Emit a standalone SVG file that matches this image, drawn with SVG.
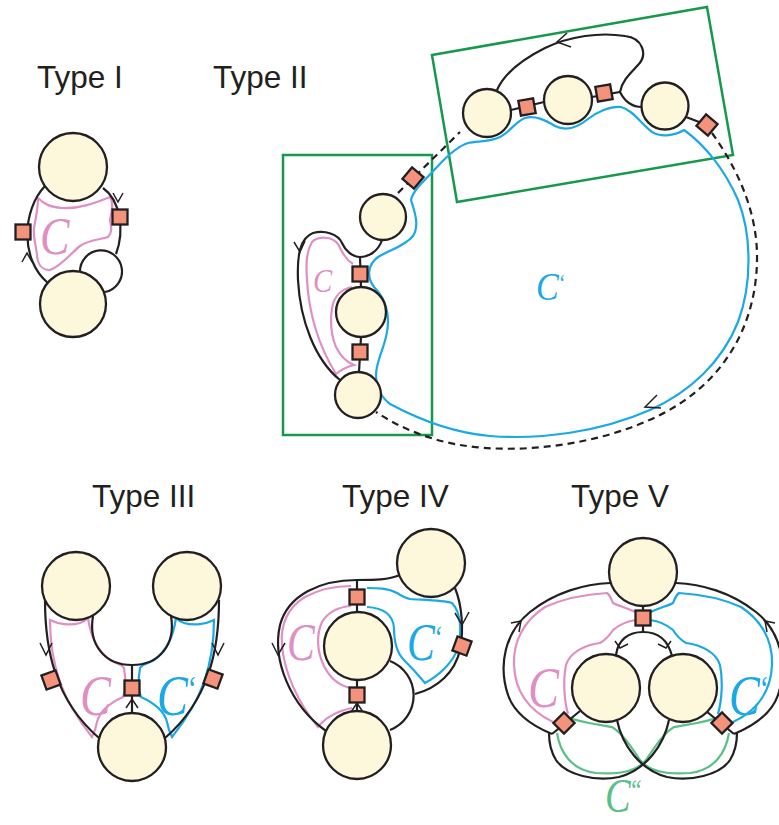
<svg xmlns="http://www.w3.org/2000/svg" width="779" height="825" viewBox="0 0 779 825">
<style>
.n{fill:#fdf7dc;stroke:#231f20;stroke-width:2.3}
.sq{fill:#f4937c;stroke:#231f20;stroke-width:2.3}
.ln{fill:none;stroke:#231f20;stroke-width:2.2}
.ar{fill:none;stroke:#231f20;stroke-width:1.5}
.da{fill:none;stroke:#231f20;stroke-width:2.2;stroke-dasharray:7 5}
.pk{fill:none;stroke:#e08fc4;stroke-width:2.2}
.bl{fill:none;stroke:#1ba9e6;stroke-width:2.2}
.gr{fill:none;stroke:#5bbf88;stroke-width:2.2}
.box{fill:none;stroke:#16994a;stroke-width:2.5}
.t{font-family:"Liberation Sans",Arial,sans-serif;font-size:31.5px;fill:#231f20}
.lab{font-family:"Liberation Serif","Times New Roman",serif;font-style:italic}
.tk{font-size:60%}
</style>
<defs>
<rect id="sqr" x="-7.5" y="-7.5" width="15" height="15" class="sq"/>
</defs>

<!-- Titles -->
<g id="titles">
<text class="t" x="37" y="88">Type I</text>
<text class="t" x="213" y="88">Type II</text>
<text class="t" x="92" y="507">Type III</text>
<text class="t" x="342" y="507">Type IV</text>
<text class="t" x="571" y="507">Type V</text>
</g>

<!-- Green boxes -->
<g id="boxes">
<rect class="box" x="283" y="155" width="149" height="280"/>
<polygon class="box" points="432,55 707,7 733,155 457,202"/>
</g>

<!-- Cycle regions -->
<g id="regions">
<path class="pk" d="M38,198 C44,204 50,207 62,208 C80,209 95,203 110,197 C114,203 112,212 110,220 C111,226 113,232 108,237 C100,240 90,239 80,246 C72,252 63,265 50,270 C42,270 38,266 37,255 C36,245 33,238 34,228 C36,218 38,208 38,198 Z"/>
<path class="pk" d="M353,264 C346,260 342,252 338,244 C332,236 318,236 312,242 C306,252 306,265 307,280 C309,315 320,348 336,374 C342,369 350,366 354,365 C346,362 340,355 336,347 C331,335 330,322 332,308 C334,296 342,289 352,287"/>
<path class="bl" d="M390,404 C378,395 374,380 377,367 C380,352 388,340 388,322 C388,305 382,295 374,287 C367,278 367,265 378,257 C390,250 405,246 413,236 C420,225 414,210 411,200 C413,190 425,180 437,167 C448,155 458,146 468,143 C478,141 490,142 500,137 C510,132 515,122 525,118 C535,115 545,120 555,126 C565,131 577,128 588,119 C597,112 610,106 621,107 C633,110 642,125 652,132 C662,138 676,135 684,130 C705,145 725,170 738,200 C752,235 752,285 738,322 C722,362 690,392 650,410 C600,432 540,440 490,436 C455,433 420,420 390,404 Z"/>
<path class="pk" d="M50,620 C58,624 70,626 80,623 C84,622 86,620 88,618 C90,632 96,650 110,660 C116,664 122,664 124,668 C126,680 126,690 123,697 C112,702 100,710 97,722 C96,728 94,733 92,737 C80,722 68,705 60,682 C53,662 50,640 50,620 Z"/>
<path class="bl" transform="translate(264,0) scale(-1,1)" d="M50,620 C58,624 70,626 80,623 C84,622 86,620 88,618 C90,632 96,650 110,660 C116,664 122,664 124,668 C126,680 126,690 123,697 C112,702 100,710 97,722 C96,728 94,733 92,737 C80,722 68,705 60,682 C53,662 50,640 50,620 Z"/>
<path class="pk" d="M351,586 C335,586 318,590 305,597 C288,607 280,625 282,645 C284,672 298,703 318,727 C325,718 338,711 352,708 M351,688 C340,686 330,678 324,666 C317,652 316,635 322,622 C328,612 338,607 351,606"/>
<path class="bl" d="M367,588 C377,588 388,588 397,593 C402,596 405,598 410,599 C425,600 442,600 452,603 C461,612 462,632 458,648 C453,662 440,675 425,683 C420,677 412,668 404,660 C396,652 394,640 394,628 C393,615 385,608 367,607"/>
<path class="pk" d="M637,613 C628,608 618,606 613,603 C611,598 610,595 607,593 C590,594 565,598 545,607 C525,620 513,640 514,665 C515,690 528,710 553,722 M568,714 C564,700 563,680 566,665 C570,652 585,645 600,643 C605,640 610,635 613,630 C620,624 628,621 636,620"/>
<path class="bl" transform="translate(1286,0) scale(-1,1)" d="M637,613 C628,608 618,606 613,603 C611,598 610,595 607,593 C590,594 565,598 545,607 C525,620 513,640 514,665 C515,690 528,710 553,722 M568,714 C564,700 563,680 566,665 C570,652 585,645 600,643 C605,640 610,635 613,630 C620,624 628,621 636,620"/>
<path class="gr" d="M570,718 C580,722 600,725 612,727 C622,733 630,745 640,760 C648,770 665,775 690,773 C715,770 726,752 729,733"/>
<path class="gr" d="M716,718 C706,722 686,725 674,727 C664,733 656,745 646,760 C638,770 621,775 596,773 C571,770 560,752 557,733"/>
</g>

<!-- Connectors -->
<g id="connectors">
<!-- Type I -->
<path class="ln" d="M45,186 C22,210 20,260 48,283"/>
<path class="ln" d="M103,188 C120,200 125,230 116,254"/>
<path class="ln" d="M80,272 A21,21 0 1 1 105,292"/>
<path class="ar" d="M113,193 L118,202 L123,193"/>
<path class="ar" d="M22,262 L27,253 L32,262"/>
<!-- Type II -->
<path class="ln" d="M382,240 C378,252 368,257 360,257 C352,257 345,250 342,243 C338,234 325,230 313,233 C300,238 297,255 298,280 C300,320 315,360 340,380"/>
<path class="ar" d="M294,242 L300,252 L305,241"/>
<path class="ln" d="M360,257 L361,287 M361,337 L359,372"/>
<path class="da" d="M398,193 L460,132"/>
<path class="ln" d="M511,110 L544,102 M592,97 L620,92 C624,100 630,107 642,107"/>
<path class="ln" d="M620,92 C622,80 632,72 638,65 C648,55 643,38 625,36 C600,32 570,36 545,48 C525,58 505,72 497,90"/>
<path class="ar" d="M567,33 L557,42 L571,47"/>
<path class="ln" d="M686,117 L707,125"/>
<path class="da" d="M712,133 C735,165 758,210 757,260 C756,330 720,385 660,415 C600,445 520,455 460,445 C430,440 400,428 376,412"/>
<path class="ar" d="M657,395 L645,407 L661,408"/>
<!-- Type III -->
<path class="ln" d="M93,616 C88,645 105,665 132,665 C159,665 176,645 171,616"/>
<path class="ln" d="M132,665 L132,713"/>
<path class="ln" d="M45,600 C45,650 55,700 99,738"/>
<path class="ln" d="M219,600 C219,650 209,700 165,738"/>
<path class="ar" d="M40,643 L46,655 L52,643"/>
<path class="ar" d="M212,643 L218,655 L224,643"/>
<path class="ar" d="M126,708 L132,699 L138,708"/>
<!-- Type IV -->
<path class="ln" d="M326,731 C290,705 272,660 280,625 C288,595 320,580 357,580 C375,580 388,580 400,575"/>
<path class="ln" d="M357,580 L357,612 M357,680 L357,711"/>
<path class="ln" d="M455,588 C462,605 464,630 460,650 C455,672 438,688 415,694"/>
<path class="ln" d="M390,661 A37,37 0 0 1 390,730"/>
<path class="ar" d="M272,643 L278,655 L285,643"/>
<path class="ar" d="M455,613 L462,625 L469,612"/>
<path class="ar" d="M351,712 L357,703 L363,712"/>
<!-- Type V -->
<path class="ln" d="M643,606 L643,632"/>
<path class="ln" d="M616,655 C618,640 628,632 643,632 C658,632 668,640 672,656"/>
<path class="ar" d="M615,641 L620,648 L628,644"/>
<path class="ar" d="M671,641 L666,648 L658,644"/>
<path class="ln" d="M610,583 C585,584 555,592 530,612 C505,632 498,665 508,695 C515,715 535,727 552,734"/>
<path class="ln" d="M676,583 C701,584 731,592 756,612 C781,632 788,665 778,695 C771,715 751,727 734,734"/>
<path class="ar" d="M519,632 L521,621 L511,623"/>
<path class="ar" d="M767,632 L765,621 L775,623"/>
<path class="ln" d="M580,711 L552,734 M706,711 L734,734"/>
<path class="ln" d="M617,720 C622,745 640,770 667,777 C690,782 720,775 730,760 C735,752 737,742 737,733"/>
<path class="ln" d="M669,720 C664,745 646,770 619,777 C596,782 566,775 556,760 C551,752 549,742 549,733"/>
</g>

<!-- Nodes -->
<g id="t1-top"><circle class="n" cx="73" cy="167" r="34"/></g>
<g id="t1-bottom"><circle class="n" cx="73" cy="304" r="33"/></g>
<g id="t1-sq1"><use href="#sqr" x="23" y="232"/></g>
<g id="t1-sq2"><use href="#sqr" x="120" y="217"/></g>

<g id="t2-a"><circle class="n" cx="383" cy="217" r="23"/></g>
<g id="t2-b"><circle class="n" cx="361" cy="312" r="25"/></g>
<g id="t2-c"><circle class="n" cx="358" cy="395" r="23"/></g>
<g id="t2-sq1"><use href="#sqr" x="360" y="274"/></g>
<g id="t2-sq2"><use href="#sqr" x="360" y="352"/></g>
<g id="t2-d1"><use href="#sqr" transform="translate(413,178) rotate(40)"/></g>
<g id="t2-e"><circle class="n" cx="487" cy="113" r="24"/></g>
<g id="t2-f"><circle class="n" cx="568" cy="100" r="24"/></g>
<g id="t2-g"><circle class="n" cx="665" cy="106" r="23.5"/></g>
<g id="t2-sq3"><use href="#sqr" transform="translate(527,107) rotate(-10)"/></g>
<g id="t2-sq4"><use href="#sqr" transform="translate(604,93) rotate(-10)"/></g>
<g id="t2-d2"><use href="#sqr" transform="translate(707,125) rotate(40)"/></g>

<g id="t3-a"><circle class="n" cx="76" cy="586" r="34"/></g>
<g id="t3-b"><circle class="n" cx="187" cy="586" r="34"/></g>
<g id="t3-c"><circle class="n" cx="132" cy="747" r="34"/></g>
<g id="t3-sq1"><use href="#sqr" x="132" y="688"/></g>
<g id="t3-sq2"><use href="#sqr" transform="translate(51,680) rotate(-20)"/></g>
<g id="t3-sq3"><use href="#sqr" transform="translate(213,679) rotate(20)"/></g>

<g id="t4-a"><circle class="n" cx="431" cy="563" r="34"/></g>
<g id="t4-b"><circle class="n" cx="358" cy="646" r="34"/></g>
<g id="t4-c"><circle class="n" cx="357" cy="745" r="34"/></g>
<g id="t4-sq1"><use href="#sqr" x="357" y="597"/></g>
<g id="t4-sq2"><use href="#sqr" x="357" y="695"/></g>
<g id="t4-sq3"><use href="#sqr" transform="translate(462,646) rotate(20)"/></g>

<g id="t5-a"><circle class="n" cx="643" cy="572" r="34"/></g>
<g id="t5-b"><circle class="n" cx="606" cy="688" r="34"/></g>
<g id="t5-c"><circle class="n" cx="683" cy="688" r="34"/></g>
<g id="t5-sq1"><use href="#sqr" x="643" y="618"/></g>
<g id="t5-d1"><use href="#sqr" transform="translate(564,723) rotate(45)"/></g>
<g id="t5-d2"><use href="#sqr" transform="translate(722,723) rotate(45)"/></g>

<!-- Labels -->
<g id="labels">
<text class="lab" transform="translate(40,254) scale(0.85,1)" font-size="52" fill="#e08fc4">C</text>
<text class="lab" transform="translate(313,292) scale(0.85,1)" font-size="34" fill="#e08fc4">C</text>
<text class="lab" transform="translate(536,300) scale(0.85,1)" font-size="40" fill="#1ba9e6">C<tspan class="tk" dx="-1" dy="-9">‘</tspan></text>
<text class="lab" transform="translate(80,715) scale(0.8,1)" font-size="58" fill="#e08fc4">C</text>
<text class="lab" transform="translate(157,715) scale(0.8,1)" font-size="58" fill="#1ba9e6">C<tspan class="tk" dx="-2" dy="-14">‘</tspan></text>
<text class="lab" transform="translate(287,660) scale(0.8,1)" font-size="52" fill="#e08fc4">C</text>
<text class="lab" transform="translate(407,660) scale(0.8,1)" font-size="52" fill="#1ba9e6">C<tspan class="tk" dx="-2" dy="-12">‘</tspan></text>
<text class="lab" transform="translate(528,707) scale(0.8,1)" font-size="58" fill="#e08fc4">C</text>
<text class="lab" transform="translate(729,715) scale(0.8,1)" font-size="58" fill="#1ba9e6">C<tspan class="tk" dx="-2" dy="-14">‘</tspan></text>
<text class="lab" transform="translate(605,812) scale(0.8,1)" font-size="48" fill="#5bbf88">C<tspan class="tk" dx="-2" dy="-12">“</tspan></text>
</g>
</svg>
